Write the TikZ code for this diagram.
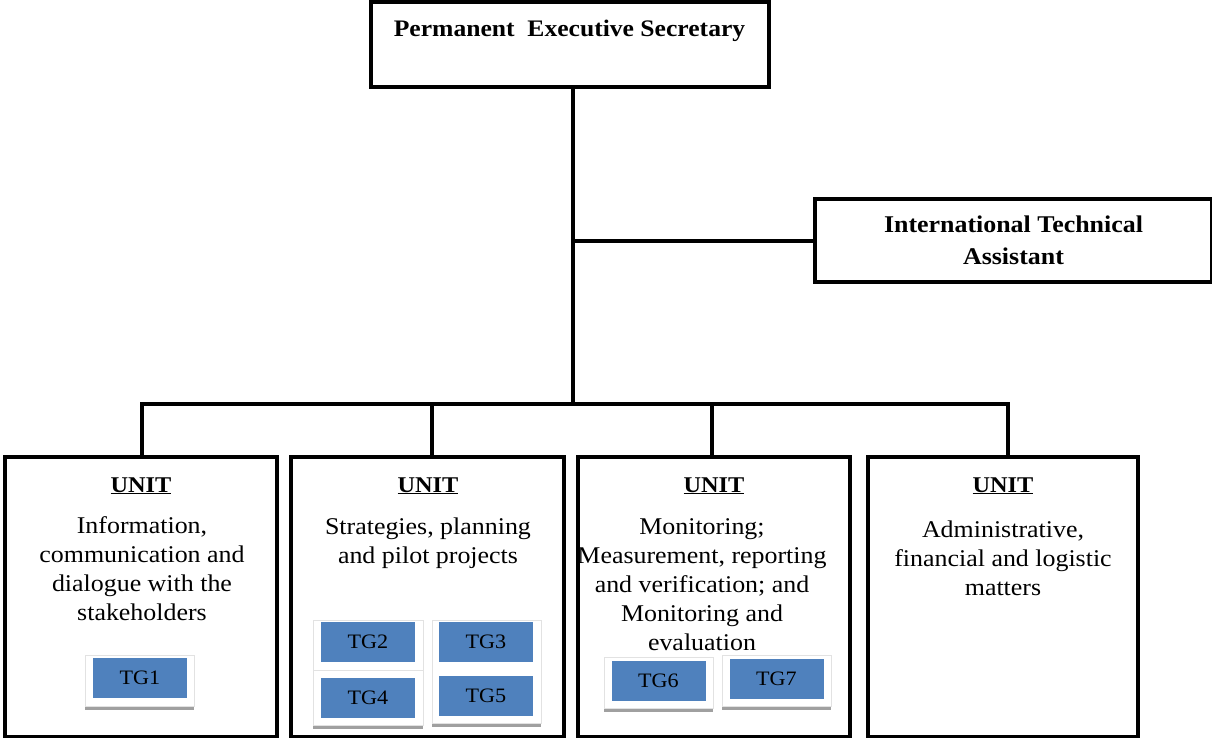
\documentclass[tikz,border=0pt]{standalone}
\usepackage{fontspec}
\setmainfont{Liberation Serif}[FakeStretch=1.08]
\definecolor{tgblue}{HTML}{4F81BD}
\definecolor{shadowgray}{HTML}{A0A0A0}
\definecolor{framegray}{HTML}{E2E2E2}
\begin{document}
\begin{tikzpicture}[x=1pt,y=-1pt,
  frame/.style={draw=black, line width=4pt, inner sep=0pt, outer sep=0pt},
  conn/.style={draw=black, line width=4pt},
  headtext/.style={font=\fontsize{23.7}{26}\bfseries\selectfont, align=center, inner sep=0pt},
  itatext/.style={font=\fontsize{24}{32}\bfseries\selectfont, align=center, inner sep=0pt, anchor=north, execute at begin node=\strut},
  unittitle/.style={font=\fontsize{22.5}{28}\bfseries\selectfont, inner sep=0pt, anchor=base},
  unittext/.style={font=\fontsize{24}{29}\selectfont, align=center, inner sep=0pt, anchor=north, execute at begin node=\strut},
  tgframe/.style={draw=framegray, line width=0.8pt, fill=white, inner sep=0pt, minimum width=109pt, minimum height=55pt},
  tgbox/.style={fill=tgblue, inner sep=0pt, minimum width=94pt, minimum height=40pt, font=\fontsize{20.5}{24}\selectfont}
]
\useasboundingbox (0,0) rectangle (1212,737);

% top and side boxes
\node[frame, minimum width=398pt, minimum height=85pt] (pes) at (570,44.5) {};
\node[headtext, anchor=base] (pestext) at (569.5,36) {Permanent\ \ Executive Secretary};
\node[frame, minimum width=397pt, minimum height=83pt] (ita) at (1013.5,240.5) {};
% strut top sits 0.7 baselineskip above the first baseline
\node[itatext] (itatext) at (1013.5,215.6) {International Technical\\Assistant};

% unit boxes
\node[frame, minimum width=272pt, minimum height=280pt] (u1) at (141,597) {};
\node[frame, minimum width=273pt, minimum height=280pt] (u2) at (427.5,597) {};
\node[frame, minimum width=272pt, minimum height=280pt] (u3) at (714,597) {};
\node[frame, minimum width=270pt, minimum height=280pt] (u4) at (1003,597) {};

% connectors
\coordinate (hub) at (573,403.5);
\draw[conn] (pes.south -| hub) -- (hub);
\draw[conn] (hub |- ita.west) -- (ita.west);
\draw[conn] ([xshift=-1pt]u1.north |- hub) -- ([xshift=7pt]u4.north |- hub);
\draw[conn] ([xshift=1pt]u1.north |- hub) -- ([xshift=1pt]u1.north);
\draw[conn] ([xshift=4.5pt]u2.north |- hub) -- ([xshift=4.5pt]u2.north);
\draw[conn] ([xshift=-2pt]u3.north |- hub) -- ([xshift=-2pt]u3.north);
\draw[conn] ([xshift=5pt]u4.north |- hub) -- ([xshift=5pt]u4.north);

% unit titles and descriptions
\node[unittitle] (t1) at (141,492) {\underline{UNIT}};
\node[unittitle] (t2) at (428,492) {\underline{UNIT}};
\node[unittitle] (t3) at (714,492) {\underline{UNIT}};
\node[unittitle] (t4) at (1003,492) {\underline{UNIT}};
\node[unittext] (d1) at (142,516) {Information,\\communication and\\dialogue with the\\stakeholders};
\node[unittext] (d2) at (428,518) {Strategies, planning\\and pilot projects};
\node[unittext] (d3) at (702,518) {Monitoring;\\Measurement, reporting\\and verification; and\\Monitoring and\\evaluation};
\node[unittext] (d4) at (1003,521) {Administrative,\\financial and logistic\\matters};

% task groups: white frame, grey base shadow, blue label box
\fill[shadowgray] (85,706) rectangle (194,710);
\node[tgframe, minimum height=51pt, anchor=north west] (f1) at (85,655) {};
\node[tgbox] (tg1) at (140,678) {TG1};

\fill[shadowgray] (313,725) rectangle (423,729);
\node[tgframe, minimum width=110pt, minimum height=105pt, anchor=north west] (f24) at (313,620) {};
\draw[framegray, line width=0.8pt] (f24.west |- 0,670) -- (f24.east |- 0,670);
\node[tgbox] (tg2) at (368,642) {TG2};
\node[tgbox] (tg4) at (368,697.5) {TG4};

\fill[shadowgray] (432,723) rectangle (541,727);
\node[tgframe, minimum height=103pt, anchor=north west] (f35) at (432,620) {};
\node[tgbox] (tg3) at (486,642) {TG3};
\node[tgbox] (tg5) at (486,695.5) {TG5};

\fill[shadowgray] (604,708) rectangle (713,712);
\node[tgframe, minimum height=51pt, anchor=north west] (f6) at (604,657) {};
\node[tgbox] (tg6) at (658.5,680.5) {TG6};

\fill[shadowgray] (722,706) rectangle (831,710);
\node[tgframe, minimum height=51pt, anchor=north west] (f7) at (722,655) {};
\node[tgbox] (tg7) at (776.5,678.5) {TG7};
\end{tikzpicture}
\end{document}
